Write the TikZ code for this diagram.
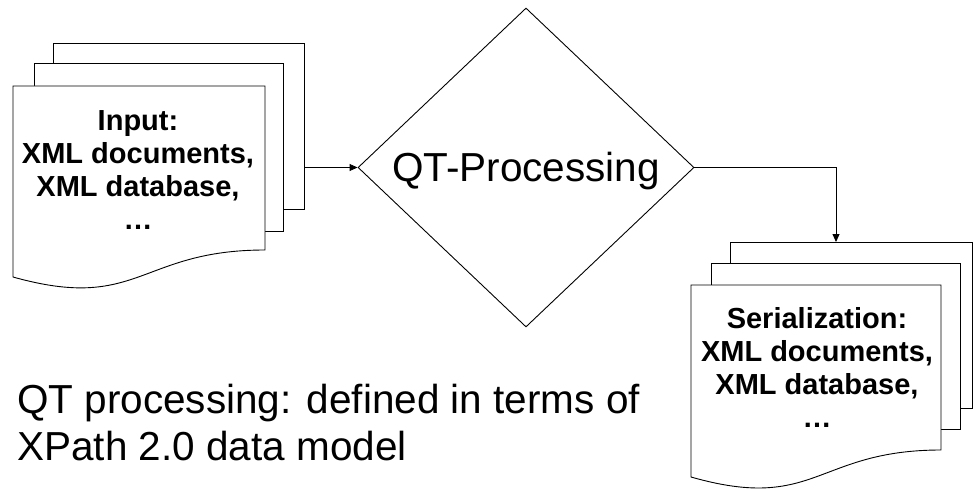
\documentclass[tikz,border=0pt]{standalone}
\usepackage{fontspec}
\setmainfont{Liberation Sans}
\usetikzlibrary{shapes.geometric,arrows.meta}
\begin{document}
\begin{tikzpicture}[x=1pt,y=-1pt,
  page/.style={draw=black,fill=white,line width=0.9pt,rectangle,inner sep=0pt,anchor=north west},
  frontpage/.style={draw=black,fill=white,line width=0.9pt},
  arr/.style={draw=black,line width=0.9pt,-{Triangle[length=8pt,width=7pt]}},
  doclabel/.style={font=\fontsize{29}{33}\selectfont\bfseries,align=center,inner sep=0pt},
  bigtext/.style={font=\fontsize{40.5}{47}\selectfont,inner sep=0pt}]
\useasboundingbox (0,0) rectangle (973,489);
% input stack
\node[page,minimum width=251pt,minimum height=166pt] (in3) at (53,43) {};
\node[page,minimum width=249pt,minimum height=168pt] (in2) at (34,63) {};
\draw[frontpage] (13,86) -- (265,86) -- (265,250) .. controls (139,250) and (139,312.4) .. (13,277) -- cycle;
\node[doclabel,anchor=base] (inlbl) at (138,229) {Input:\\XML documents,\\XML database,\\…};
% serialization stack
\node[page,minimum width=242pt,minimum height=166pt] (out3) at (730,242) {};
\node[page,minimum width=249pt,minimum height=166pt] (out2) at (711,263) {};
\draw[frontpage] (691,285) -- (941,285) -- (941,450) .. controls (816,450) and (816,512.7) .. (691,477) -- cycle;
\node[doclabel,anchor=base] (outlbl) at (817,427) {Serialization:\\XML documents,\\XML database,\\…};
% decision
\node[diamond,draw=black,line width=0.9pt,minimum width=336pt,minimum height=319pt,inner sep=0pt] (qt) at (526,167.5) {};
\node[bigtext,anchor=base] (qtlbl) at (526,181) {QT-Processing};
% connectors
\draw[arr] (qt.west -| in3.east) -- (qt.west);
\draw[arr] (qt.east) -| ([xshift=106pt]out3.north west);
% note
\node[bigtext,align=left,anchor=base west] (note) at (17,460) {QT processing: defined in terms of\\XPath 2.0 data model};
\end{tikzpicture}
\end{document}
